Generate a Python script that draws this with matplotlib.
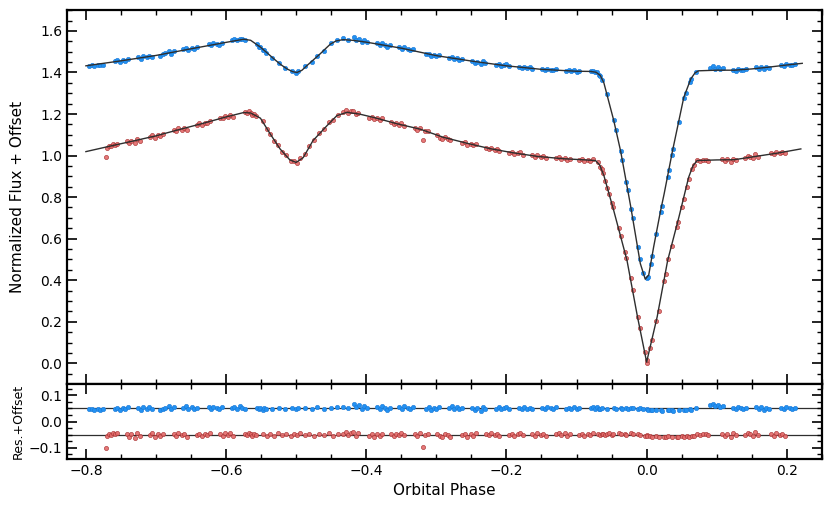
"""
light curve of an eclipsing binary, two bands, with fit residuals
"""
import matplotlib
matplotlib.use('Agg')
import matplotlib.pyplot as plt
from matplotlib.ticker import MultipleLocator

# model curves (phase, flux)
blue_model_phase = [-0.800, -0.750, -0.700, -0.650, -0.600, -0.575, -0.565, -0.551, -0.540, -0.532,
                    -0.522, -0.513, -0.505, -0.499, -0.492, -0.485, -0.475, -0.466, -0.458, -0.451,
                    -0.443, -0.433, -0.420, -0.400, -0.350, -0.300, -0.250, -0.200, -0.150, -0.100,
                    -0.080, -0.072, -0.066, -0.061, -0.047, -0.037, -0.023, -0.009, -0.002, 0.003,
                    0.010, 0.020, 0.025, 0.037, 0.053, 0.063, 0.069, 0.074, 0.100, 0.125,
                    0.150, 0.175, 0.200, 0.222]
blue_model_flux = [1.432, 1.456, 1.482, 1.514, 1.545, 1.560, 1.555, 1.522, 1.490, 1.466,
                   1.438, 1.417, 1.404, 1.400, 1.410, 1.432, 1.462, 1.489, 1.515, 1.537,
                   1.552, 1.558, 1.555, 1.546, 1.517, 1.481, 1.455, 1.432, 1.415, 1.406,
                   1.405, 1.401, 1.385, 1.350, 1.170, 1.020, 0.760, 0.480, 0.405, 0.425,
                   0.560, 0.736, 0.816, 1.024, 1.280, 1.369, 1.398, 1.408, 1.411, 1.411,
                   1.417, 1.426, 1.436, 1.444]

red_model_phase = [-0.800, -0.766, -0.730, -0.700, -0.666, -0.633, -0.600, -0.575, -0.565, -0.551,
                   -0.537, -0.523, -0.509, -0.500, -0.490, -0.476, -0.456, -0.442, -0.428, -0.410,
                   -0.390, -0.356, -0.323, -0.290, -0.256, -0.223, -0.190, -0.156, -0.120, -0.087,
                   -0.073, -0.067, -0.061, -0.047, -0.028, -0.013, 0.000, 0.015, 0.030, 0.046,
                   0.060, 0.066, 0.072, 0.100, 0.125, 0.150, 0.187, 0.220]
red_model_flux = [1.019, 1.045, 1.072, 1.095, 1.126, 1.155, 1.186, 1.207, 1.205, 1.180,
                  1.104, 1.032, 0.979, 0.967, 0.990, 1.072, 1.144, 1.192, 1.208, 1.200,
                  1.184, 1.153, 1.127, 1.088, 1.059, 1.033, 1.013, 0.996, 0.985, 0.979,
                  0.976, 0.955, 0.904, 0.736, 0.495, 0.223, 0.006, 0.223, 0.495, 0.703,
                  0.896, 0.950, 0.976, 0.979, 0.980, 0.993, 1.012, 1.032]

# observed points, blue band
blue_phase = [-0.795, -0.791, -0.788, -0.783, -0.780, -0.776,
              -0.759, -0.755, -0.752, -0.747, -0.744, -0.740,
              -0.725, -0.721, -0.718, -0.713, -0.710, -0.706,
              -0.694, -0.690, -0.687, -0.682, -0.679, -0.675,
              -0.661, -0.657, -0.654, -0.649, -0.646, -0.642,
              -0.625, -0.621, -0.618, -0.613, -0.610, -0.606,
              -0.592, -0.588, -0.585, -0.580, -0.577, -0.573,
              -0.556, -0.553, -0.551, -0.548, -0.546, -0.543,
              -0.534, -0.525, -0.516, -0.506, -0.500, -0.497, -0.487, -0.478, -0.471, -0.461,
              -0.451, -0.442, -0.433, -0.426,
              -0.418, -0.414, -0.411, -0.406, -0.403, -0.399,
              -0.385, -0.381, -0.378, -0.373, -0.370, -0.366,
              -0.353, -0.349, -0.346, -0.341, -0.338, -0.334,
              -0.315, -0.311, -0.308, -0.303, -0.300, -0.296,
              -0.282, -0.278, -0.275, -0.270, -0.267, -0.263,
              -0.249, -0.245, -0.242, -0.237, -0.234, -0.230,
              -0.215, -0.211, -0.208, -0.203, -0.200, -0.196,
              -0.182, -0.178, -0.175, -0.170, -0.167, -0.163,
              -0.149, -0.145, -0.142, -0.137, -0.134, -0.130,
              -0.115, -0.111, -0.108, -0.103, -0.100, -0.096,
              -0.079, -0.076, -0.074, -0.071, -0.068, -0.066,
              -0.063, -0.057, -0.047, -0.044, -0.037, -0.035, -0.029, -0.027, -0.022, -0.020,
              -0.013, -0.010, -0.005, 0.000, 0.002, 0.006, 0.008, 0.014, 0.020, 0.022,
              0.030, 0.032, 0.036, 0.038, 0.046, 0.053, 0.056, 0.062, 0.064, 0.071,
              0.090, 0.094, 0.097, 0.102, 0.105, 0.109,
              0.123, 0.127, 0.130, 0.135, 0.138, 0.142,
              0.156, 0.160, 0.163, 0.168, 0.171, 0.175,
              0.192, 0.196, 0.199, 0.204, 0.207, 0.211]
blue_flux = [1.432, 1.435, 1.433, 1.436, 1.434, 1.437,
             1.453, 1.459, 1.450, 1.459, 1.456, 1.463,
             1.473, 1.467, 1.479, 1.474, 1.480, 1.474,
             1.480, 1.488, 1.494, 1.502, 1.490, 1.501,
             1.511, 1.520, 1.510, 1.519, 1.514, 1.521,
             1.535, 1.532, 1.540, 1.538, 1.534, 1.544,
             1.554, 1.559, 1.554, 1.563, 1.560, 1.557,
             1.537, 1.523, 1.524, 1.508, 1.508, 1.496,
             1.469, 1.448, 1.422, 1.407, 1.398, 1.406, 1.429, 1.452, 1.478, 1.503,
             1.540, 1.558, 1.564, 1.558,
             1.571, 1.558, 1.563, 1.547, 1.556, 1.548,
             1.540, 1.531, 1.540, 1.532, 1.525, 1.531,
             1.523, 1.513, 1.522, 1.513, 1.506, 1.512,
             1.487, 1.491, 1.480, 1.486, 1.481, 1.485,
             1.472, 1.475, 1.465, 1.470, 1.461, 1.464,
             1.456, 1.447, 1.452, 1.439, 1.454, 1.444,
             1.436, 1.440, 1.431, 1.435, 1.439, 1.431,
             1.426, 1.421, 1.427, 1.421, 1.424, 1.417,
             1.416, 1.410, 1.419, 1.414, 1.410, 1.416,
             1.405, 1.411, 1.406, 1.412, 1.402, 1.407,
             1.408, 1.409, 1.400, 1.402, 1.389, 1.382,
             1.366, 1.298, 1.173, 1.123, 1.021, 0.980, 0.873, 0.833, 0.743, 0.700,
             0.558, 0.502, 0.434, 0.409, 0.415, 0.476, 0.516, 0.622, 0.730, 0.759,
             0.896, 0.929, 1.001, 1.031, 1.161, 1.275, 1.299, 1.356, 1.368, 1.403,
             1.423, 1.429, 1.419, 1.425, 1.416, 1.421,
             1.413, 1.409, 1.417, 1.413, 1.412, 1.417,
             1.424, 1.419, 1.428, 1.417, 1.426, 1.422,
             1.436, 1.432, 1.441, 1.437, 1.434, 1.442]
blue_res = [-0.004, -0.002, -0.005, -0.003, -0.006, -0.004,
            -0.004, 0.003, -0.006, 0.001, -0.002, 0.004,
            0.002, -0.005, 0.006, -0.001, 0.004, -0.003,
            -0.008, -0.002, 0.003, 0.009, -0.004, 0.005,
            0.002, 0.009, -0.003, 0.005, -0.002, 0.003,
            0.004, -0.001, 0.006, 0.002, -0.003, 0.005,
            0.002, 0.006, -0.001, 0.007, 0.003, -0.002,
            0.003, -0.004, 0.002, -0.005, 0.001, -0.003,
            -0.003, 0.002, -0.002, 0.001, -0.003, 0.002, 0.003, -0.001, 0.004, -0.002,
            0.003, 0.005, 0.006, 0.002,
            0.018, 0.006, 0.012, -0.002, 0.008, 0.001,
            0.004, -0.003, 0.007, 0.001, -0.005, 0.003,
            0.006, -0.002, 0.009, 0.002, -0.004, 0.004,
            -0.003, 0.004, -0.006, 0.002, -0.001, 0.005,
            0.002, 0.007, -0.002, 0.004, -0.004, 0.001,
            0.003, -0.005, 0.001, -0.010, 0.005, -0.003,
            -0.002, 0.004, -0.004, 0.001, 0.006, -0.001,
            0.001, -0.003, 0.004, -0.001, 0.002, -0.004,
            0.002, -0.004, 0.006, 0.001, -0.002, 0.004,
            -0.003, 0.003, -0.001, 0.005, -0.004, 0.001,
            0.003, 0.006, -0.002, 0.004, -0.001, -0.003,
            0.002, -0.001, 0.003, -0.002, 0.001, -0.003, 0.002, -0.001, 0.003, 0.000,
            -0.002, 0.002, -0.003, -0.004, -0.006, -0.007, -0.005, -0.008, -0.006, -0.009,
            -0.007, -0.008, -0.006, -0.009, -0.007, -0.005, -0.008, -0.004, -0.006, 0.001,
            0.012, 0.018, 0.008, 0.014, 0.005, 0.010,
            0.002, -0.003, 0.004, 0.000, -0.002, 0.003,
            0.004, -0.002, 0.006, -0.006, 0.002, -0.003,
            0.002, -0.003, 0.005, 0.000, -0.004, 0.003]

# observed points, red band
red_phase = [-0.771, -0.770, -0.767, -0.764, -0.761, -0.758, -0.755,
             -0.742, -0.738, -0.735, -0.730, -0.727, -0.723,
             -0.709, -0.705, -0.702, -0.697, -0.694, -0.690,
             -0.675, -0.671, -0.668, -0.663, -0.660, -0.656,
             -0.642, -0.638, -0.635, -0.630, -0.627, -0.623,
             -0.609, -0.605, -0.602, -0.597, -0.594, -0.590,
             -0.573, -0.570, -0.568, -0.565, -0.563, -0.560, -0.557,
             -0.548, -0.542, -0.537, -0.531, -0.526, -0.520, -0.514, -0.508, -0.503, -0.499,
             -0.494, -0.487, -0.481, -0.474, -0.467, -0.460, -0.453, -0.447, -0.441,
             -0.433, -0.429, -0.426, -0.422, -0.419, -0.415, -0.412,
             -0.396, -0.392, -0.389, -0.384, -0.381, -0.377,
             -0.365, -0.361, -0.358, -0.353, -0.350, -0.346,
             -0.331, -0.327, -0.324, -0.319, -0.316, -0.312,
             -0.299, -0.295, -0.292, -0.287, -0.284, -0.280,
             -0.263, -0.259, -0.256, -0.251, -0.248, -0.244,
             -0.229, -0.225, -0.222, -0.217, -0.214, -0.210,
             -0.196, -0.192, -0.189, -0.184, -0.181, -0.177,
             -0.163, -0.159, -0.156, -0.151, -0.148, -0.144,
             -0.129, -0.125, -0.122, -0.117, -0.114, -0.110,
             -0.096, -0.092, -0.089, -0.084, -0.081, -0.077,
             -0.070, -0.066, -0.064, -0.062, -0.059, -0.056, -0.053, -0.050, -0.048, -0.040,
             -0.037, -0.031, -0.029, -0.023, -0.020, -0.013, -0.010, -0.003, 0.000, 0.001,
             0.005, 0.008, 0.014, 0.017, 0.025, 0.027, 0.031, 0.036, 0.043, 0.045,
             0.050, 0.053, 0.057, 0.060, 0.065, 0.068, 0.072, 0.076, 0.080, 0.084, 0.088,
             0.108, 0.112, 0.115, 0.120, 0.123, 0.127,
             0.140, 0.144, 0.147, 0.152, 0.155, 0.159,
             0.178, 0.182, 0.185, 0.190, 0.193, 0.197]
red_flux = [0.991, 1.037, 1.048, 1.044, 1.055, 1.051, 1.056,
            1.069, 1.060, 1.071, 1.059, 1.079, 1.071,
            1.087, 1.098, 1.085, 1.098, 1.094, 1.104,
            1.123, 1.117, 1.132, 1.125, 1.134, 1.122,
            1.148, 1.156, 1.148, 1.159, 1.156, 1.167,
            1.183, 1.179, 1.192, 1.186, 1.194, 1.186,
            1.211, 1.203, 1.214, 1.207, 1.195, 1.199, 1.189,
            1.167, 1.126, 1.106, 1.069, 1.053, 1.019, 1.002, 0.972, 0.972, 0.966,
            0.986, 1.007, 1.047, 1.074, 1.107, 1.128, 1.160, 1.171, 1.195,
            1.211, 1.218, 1.205, 1.213, 1.216, 1.199, 1.207,
            1.182, 1.187, 1.174, 1.180, 1.172, 1.179,
            1.160, 1.151, 1.158, 1.149, 1.156, 1.144,
            1.134, 1.125, 1.131, 1.077, 1.118, 1.120,
            1.097, 1.086, 1.079, 1.089, 1.082, 1.074,
            1.059, 1.064, 1.051, 1.057, 1.050, 1.057,
            1.037, 1.030, 1.037, 1.028, 1.032, 1.023,
            1.013, 1.017, 1.007, 1.012, 1.016, 1.005,
            1.001, 0.993, 1.002, 0.993, 0.996, 0.988,
            0.988, 0.994, 0.982, 0.990, 0.978, 0.985,
            0.977, 0.983, 0.973, 0.980, 0.976, 0.982,
            0.969, 0.945, 0.934, 0.914, 0.877, 0.846, 0.813, 0.771, 0.751, 0.653,
            0.611, 0.537, 0.507, 0.409, 0.351, 0.225, 0.171, 0.052, 0.003, 0.014,
            0.073, 0.114, 0.203, 0.250, 0.397, 0.431, 0.502, 0.564, 0.657, 0.680,
            0.752, 0.792, 0.850, 0.889, 0.937, 0.953, 0.978, 0.973, 0.981, 0.978, 0.976,
            0.984, 0.974, 0.982, 0.971, 0.985, 0.977,
            0.986, 0.999, 0.994, 0.989, 1.006, 0.995,
            1.011, 1.006, 1.016, 1.011, 1.017, 1.010]
red_res = [-0.050, -0.006, 0.004, -0.002, 0.008, 0.002, 0.006,
           0.004, -0.008, 0.002, -0.012, 0.006, -0.004,
           -0.003, 0.005, -0.009, 0.001, -0.005, 0.003,
           0.002, -0.006, 0.007, -0.003, 0.004, -0.010,
           -0.002, 0.004, -0.006, 0.002, -0.003, 0.005,
           0.003, -0.004, 0.007, -0.002, 0.005, -0.006,
           0.004, -0.003, 0.008, 0.002, -0.006, 0.003, -0.002,
           0.003, -0.005, 0.002, -0.004, 0.006, -0.002, 0.004, -0.006, 0.001, -0.003,
           0.005, -0.001, 0.004, -0.005, 0.003, -0.002, 0.006, -0.004, 0.002,
           0.003, 0.010, -0.002, 0.007, 0.012, -0.004, 0.005,
           -0.004, 0.003, -0.008, 0.001, -0.006, 0.004,
           0.002, -0.005, 0.004, -0.002, 0.006, -0.003,
           0.003, -0.004, 0.005, -0.045, -0.002, 0.004,
           0.002, -0.006, -0.010, 0.003, -0.003, -0.008,
           -0.003, 0.004, -0.007, 0.001, -0.004, 0.005,
           0.002, -0.003, 0.005, -0.002, 0.003, -0.004,
           -0.002, 0.004, -0.005, 0.001, 0.006, -0.003,
           0.003, -0.004, 0.006, -0.002, 0.002, -0.005,
           0.002, 0.008, -0.003, 0.005, -0.006, 0.001,
           -0.003, 0.004, -0.006, 0.002, -0.002, 0.005,
           0.003, -0.002, 0.004, 0.001, -0.003, 0.002, 0.005, -0.001, 0.003, 0.006,
           0.002, 0.004, -0.001, 0.005, 0.001, 0.002, -0.002, -0.004, -0.003, -0.006,
           -0.005, -0.008, -0.006, -0.009, -0.007, -0.010, -0.006, -0.009, -0.007, -0.010,
           -0.006, -0.008, -0.005, -0.007, -0.004, -0.006, 0.002, -0.003, 0.004, 0.001, -0.002,
           0.004, -0.006, 0.002, -0.009, 0.005, -0.003,
           -0.003, 0.008, 0.002, -0.005, 0.011, -0.001,
           0.002, -0.004, 0.005, -0.002, 0.003, -0.005]

blue_offset = 0.05
red_offset = -0.05

blue_face = '#2291f2'
blue_edge = '#1b78d6'
red_face = '#e46a6a'
red_edge = '#a83434'
line_color = '#2e2e2e'

fig = plt.figure(figsize=(8.31, 5.08), dpi=100)
ax = fig.add_axes([0.0806, 0.244, 0.9084, 0.736])
axr = fig.add_axes([0.0806, 0.0965, 0.9084, 0.1475], sharex=ax)

ax.plot(blue_model_phase, blue_model_flux, color=line_color, lw=1.0, zorder=3)
ax.plot(red_model_phase, red_model_flux, color=line_color, lw=1.0, zorder=3)
ax.scatter(blue_phase, blue_flux, s=10, c=blue_face, edgecolors=blue_edge, linewidths=0.4, zorder=2)
ax.scatter(red_phase, red_flux, s=9, c=red_face, edgecolors=red_edge, linewidths=0.5, alpha=0.9, zorder=2)

axr.axhline(blue_offset, color=line_color, lw=0.9, zorder=1)
axr.axhline(red_offset, color=line_color, lw=0.9, zorder=1)
axr.scatter(blue_phase, [r + blue_offset for r in blue_res], s=10, c=blue_face,
            edgecolors=blue_edge, linewidths=0.4, zorder=2)
axr.scatter(red_phase, [r + red_offset for r in red_res], s=9, c=red_face,
            edgecolors=red_edge, linewidths=0.5, alpha=0.9, zorder=2)

ax.set_xlim(-0.827, 0.25)
ax.set_ylim(-0.1, 1.7)
axr.set_ylim(-0.142, 0.142)

ax.yaxis.set_major_locator(MultipleLocator(0.2))
ax.yaxis.set_minor_locator(MultipleLocator(0.05))
ax.xaxis.set_major_locator(MultipleLocator(0.2))
ax.xaxis.set_minor_locator(MultipleLocator(0.05))
axr.yaxis.set_major_locator(MultipleLocator(0.1))
axr.yaxis.set_minor_locator(MultipleLocator(0.025))

for a in (ax, axr):
    a.tick_params(which='both', direction='in', top=True, right=True, labelsize=10)
    a.tick_params(which='major', length=7, width=1.2)
    a.tick_params(which='minor', length=3.5, width=1.0)
    for sp in a.spines.values():
        sp.set_linewidth(1.6)
ax.tick_params(labelbottom=False)

ax.set_ylabel('Normalized Flux + Offset', fontsize=11)
axr.set_ylabel('Res.+Offset', fontsize=9)
axr.set_xlabel('Orbital Phase', fontsize=11)
ax.yaxis.set_label_coords(-0.056, 0.5)
axr.yaxis.set_label_coords(-0.056, 0.5)

fig.savefig('out.png', dpi=100)
